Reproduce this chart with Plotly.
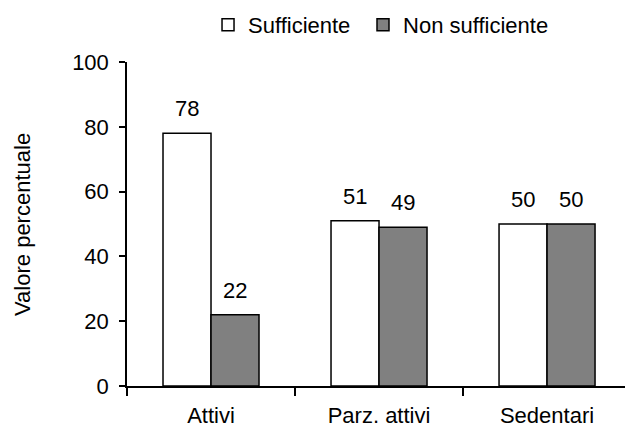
import plotly.graph_objects as go

categories = ["Attivi", "Parz. attivi", "Sedentari"]
series_names = ["Sufficiente", "Non sufficiente"]
sufficiente = [78, 51, 50]
non_sufficiente = [22, 49, 50]
y_ticks = [0, 20, 40, 60, 80, 100]
y_title = "Valore percentuale"

FONT = "Liberation Sans, Arial, sans-serif"
FS = 22
BARGAP = 0.4286

fig = go.Figure()
fig.add_trace(go.Bar(x=categories, y=sufficiente, name=series_names[0], legend="legend",
                     marker=dict(color="white", line=dict(color="black", width=1.5))))
fig.add_trace(go.Bar(x=categories, y=non_sufficiente, name=series_names[1], legend="legend2",
                     marker=dict(color="#808080", line=dict(color="black", width=1.5))))

off = (1 - BARGAP) / 4
ann = []
for i, v in enumerate(sufficiente):
    ann.append(dict(x=i - off, y=v, text=str(v), showarrow=False, xref="x", yref="y",
                    yanchor="bottom", yshift=10, font=dict(size=FS, color="black", family=FONT)))
for i, v in enumerate(non_sufficiente):
    ann.append(dict(x=i + off, y=v, text=str(v), showarrow=False, xref="x", yref="y",
                    yanchor="bottom", yshift=10, font=dict(size=FS, color="black", family=FONT)))
# y axis title
ann.append(dict(x=-0.211, y=0.5, xref="paper", yref="paper", text=y_title, textangle=-90,
                showarrow=False, xanchor="center", yanchor="middle",
                font=dict(size=FS, color="black", family=FONT)))

leg_common = dict(orientation="h", xanchor="left", yanchor="middle", y=1.114,
                  font=dict(size=FS), bgcolor="rgba(0,0,0,0)")

fig.update_layout(
    width=625, height=428,
    margin=dict(l=127, r=0, t=62, b=42),
    paper_bgcolor="white", plot_bgcolor="white",
    font=dict(family=FONT, size=FS, color="black"),
    barmode="group", bargap=BARGAP, bargroupgap=0,
    showlegend=True,
    legend=dict(x=0.1627, **leg_common),
    legend2=dict(x=0.4739, **leg_common),
    annotations=ann,
)
fig.update_xaxes(type="category", range=[-0.5, 2.464], showline=True, linecolor="black",
                 linewidth=1.5, ticks="outside", tickson="boundaries", ticklen=8,
                 tickwidth=1.5, tickcolor="black", showgrid=False, zeroline=False,
                 ticklabelstandoff=9, automargin=False)
fig.update_yaxes(range=[0, 100], tickvals=y_ticks, showline=True, linecolor="black",
                 linewidth=1.5, ticks="outside", ticklen=6, tickwidth=1.5, tickcolor="black",
                 showgrid=False, zeroline=False, ticklabelstandoff=6, automargin=False)

fig.write_html("out.html", config={"displayModeBar": False},
               post_script="document.body.style.margin='0px';document.body.style.overflow='hidden';")
